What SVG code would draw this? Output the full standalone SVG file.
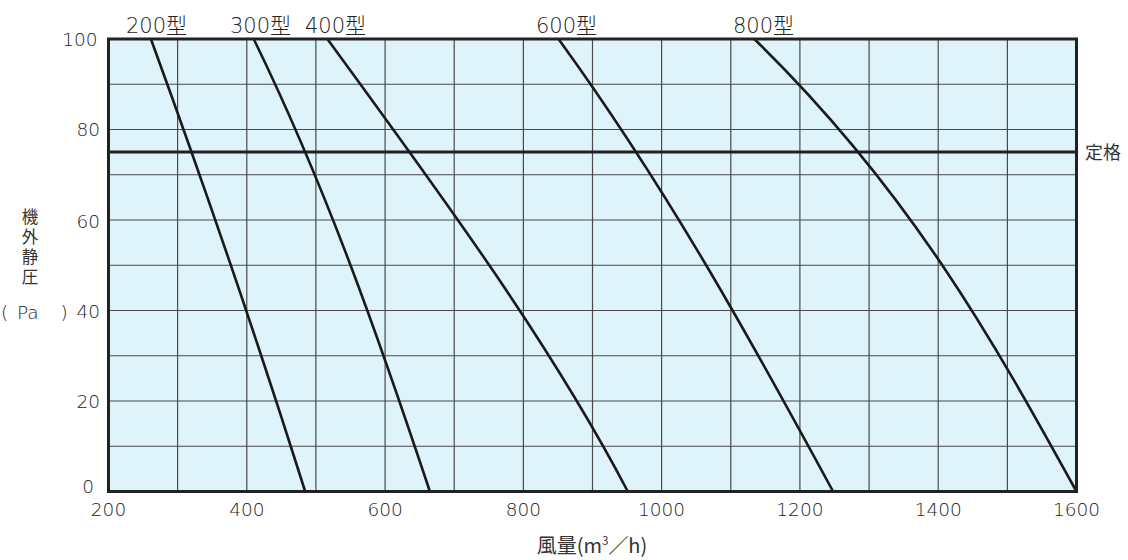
<svg xmlns="http://www.w3.org/2000/svg" width="1128" height="560" viewBox="0 0 1128 560">
<style>
.grid{stroke:#4a4a4a;stroke-width:1.2;fill:none}
.rated{stroke:#222;stroke-width:3;fill:none}
.curve{stroke:#1a1a1a;stroke-width:2.6;fill:none;stroke-linecap:butt}
.frame{stroke:#222;stroke-width:3;fill:none}
.num{font-family:"DejaVu Sans","Noto Sans CJK JP",sans-serif;font-size:18.5px;fill:#222;font-weight:200}
.ttl{font-family:"DejaVu Sans","Noto Sans CJK JP",sans-serif;font-size:21px;fill:#222;font-weight:200}
.cjk{font-family:"Noto Sans CJK JP",sans-serif;fill:#333}
</style>
<rect id="plot-bg" x="108.5" y="39" width="968" height="452.5" fill="#dff3fa"/>
<g id="grid" class="grid">
<path d="M177.6 39V491.5M246.8 39V491.5M315.9 39V491.5M385.1 39V491.5M454.2 39V491.5M523.4 39V491.5M592.5 39V491.5M661.6 39V491.5M730.8 39V491.5M799.9 39V491.5M869.1 39V491.5M938.2 39V491.5M1007.4 39V491.5"/>
<path d="M108.5 84.25H1076.5M108.5 129.5H1076.5M108.5 174.75H1076.5M108.5 220H1076.5M108.5 265.25H1076.5M108.5 310.5H1076.5M108.5 355.75H1076.5M108.5 401H1076.5M108.5 446.25H1076.5"/>
</g>
<line id="rated-line" class="rated" x1="108.5" y1="152.1" x2="1076.5" y2="152.1"/>
<g id="curves" class="curve">
<path id="c200" d="M150.9 39C205.9 189.8 257.7 340.7 305.2 491.5"/>
<path id="c300" d="M253.7 39C327.3 189.8 379.6 340.7 429.9 491.5"/>
<path id="c400" d="M327.4 39C437.6 189.8 548.8 340.7 627.8 491.5"/>
<path id="c600" d="M558.5 39C668.0 189.8 751.3 340.7 833.1 491.5"/>
<path id="c800" d="M754.3 39C909.3 189.8 993.3 340.7 1076.5 491.5"/>
</g>
<rect id="frame" class="frame" x="108.5" y="39" width="968" height="452.5"/>
<g id="y-ticks" class="num" text-anchor="end">
<text x="97.5" y="45.5">100</text>
<text x="100" y="136">80</text>
<text x="100" y="227.5">60</text>
<text x="100" y="317.5">40</text>
<text x="100" y="408">20</text>
<text x="94" y="493">0</text>
</g>
<g id="x-ticks" class="num" text-anchor="middle">
<text x="108.5" y="516">200</text>
<text x="246.8" y="516">400</text>
<text x="385.1" y="516">600</text>
<text x="523.4" y="516">800</text>
<text x="661.6" y="516">1000</text>
<text x="799.9" y="516">1200</text>
<text x="938.2" y="516">1400</text>
<text x="1076.5" y="516">1600</text>
</g>
<g id="model-labels" class="ttl">
<text x="126" y="33">200型</text>
<text x="230" y="33">300型</text>
<text x="305" y="33">400型</text>
<text x="536" y="33">600型</text>
<text x="733" y="33">800型</text>
</g>
<text id="rated-label" class="cjk" x="1085" y="158.5" font-size="18">定格</text>
<text id="y-title" class="cjk" x="30" y="208" font-size="16.5" writing-mode="vertical-rl" letter-spacing="3.5">機外静圧</text>
<text id="y-unit" class="num" y="319" font-size="22.5"><tspan x="1">(</tspan><tspan x="17">Pa</tspan><tspan x="60.5">)</tspan></text>
<text id="x-title" class="cjk" x="592" y="553" font-size="20" text-anchor="middle">風量(m<tspan font-size="11.5" dy="-8.5">3</tspan><tspan dy="8.5">／h)</tspan></text>
</svg>
